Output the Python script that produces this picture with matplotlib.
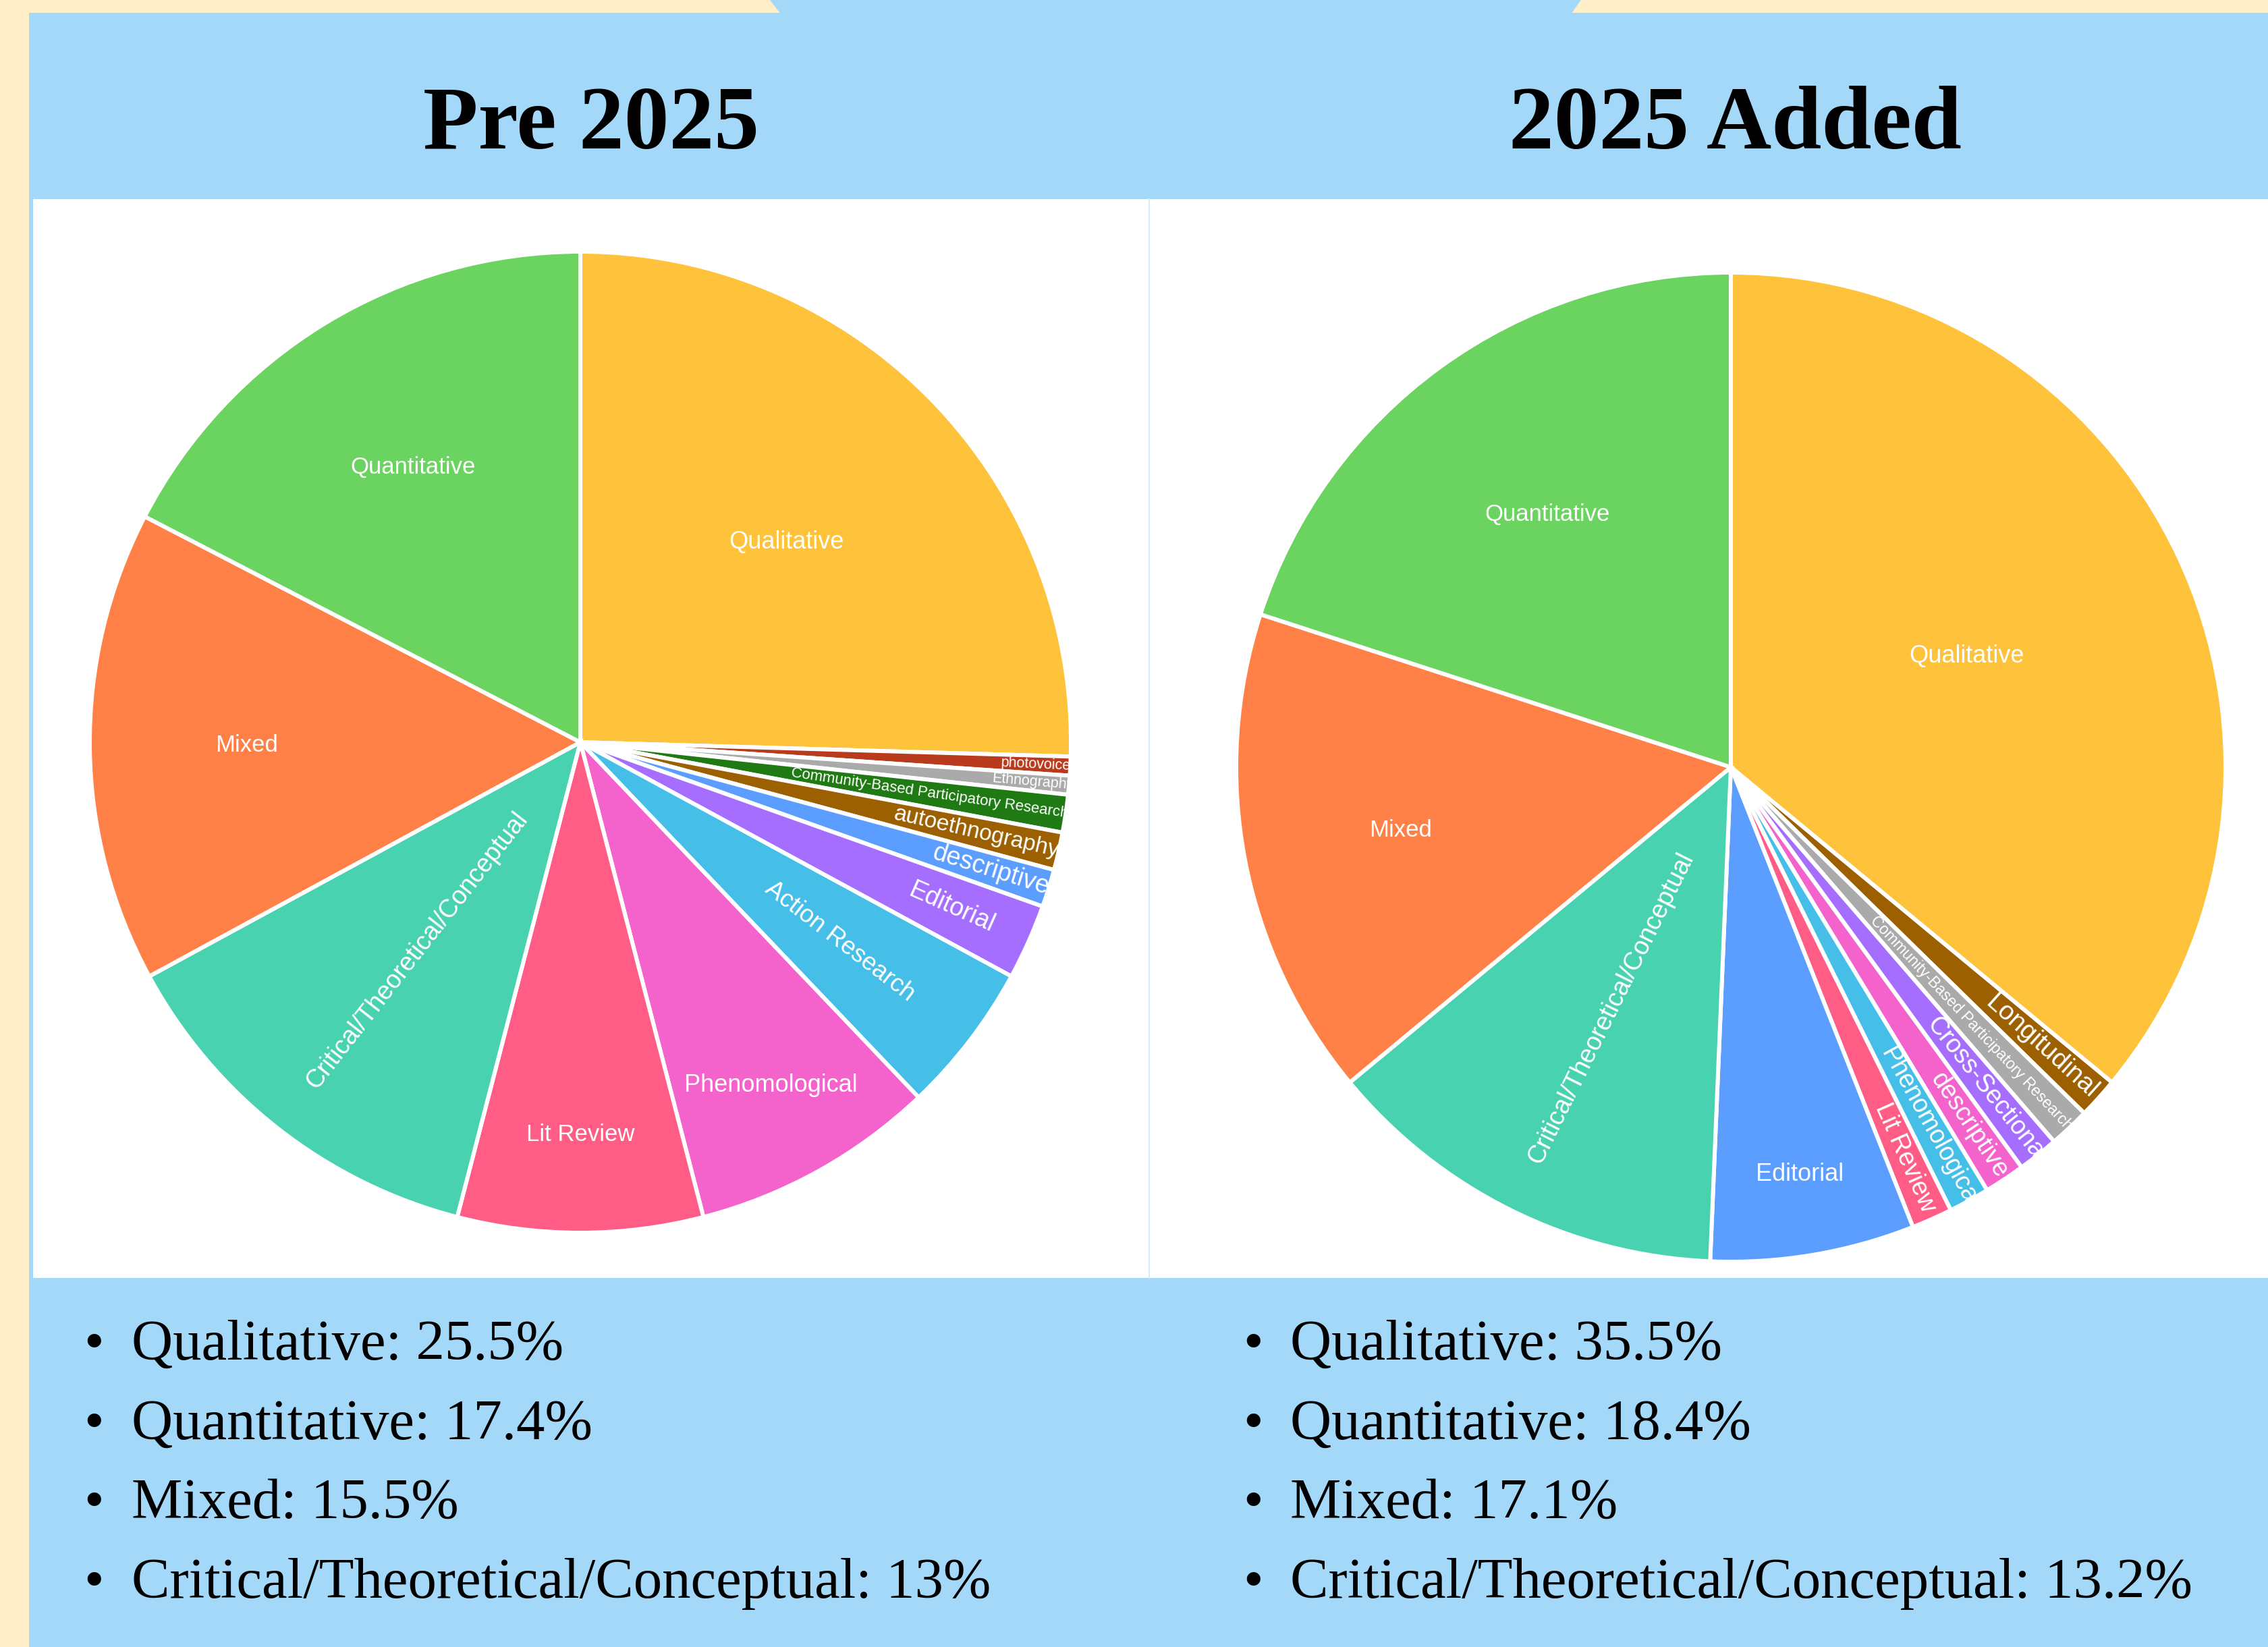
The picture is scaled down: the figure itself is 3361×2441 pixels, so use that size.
import matplotlib
matplotlib.use("Agg")
import matplotlib.pyplot as plt
import numpy as np
from matplotlib.patches import Rectangle, Polygon

# ---- data ----
titles = ["Pre 2025", "2025 Added"]

pre_labels = ["Qualitative", "photovoice", "Ethnography",
              "Community-Based Participatory Research", "autoethnography",
              "descriptive", "Editorial", "Action Research", "Phenomological",
              "Lit Review", "Critical/Theoretical/Conceptual", "Mixed", "Quantitative"]
pre_counts = [41, 1, 1, 2, 2, 2, 4, 8, 13, 13, 21, 25, 28]
pre_colors = ["#FEC23B", "#B83B1E", "#AAAAAA", "#207A13", "#9C6000", "#5C9EFF",
              "#A66EFF", "#45BEE8", "#F463CB", "#FF5D86", "#48D2B0", "#FF8147", "#6BD35F"]

new_labels = ["Qualitative", "Longitudinal", "Community-Based Participatory Research",
              "Cross-Sectional", "descriptive", "Phenomological", "Lit Review",
              "Editorial", "Critical/Theoretical/Conceptual", "Mixed", "Quantitative"]
new_counts = [27, 1, 1, 1, 1, 1, 1, 5, 10, 12, 15]
new_colors = ["#FEC23B", "#9C6000", "#AAAAAA", "#A66EFF", "#F463CB", "#45BEE8",
              "#FF5D86", "#5C9EFF", "#48D2B0", "#FF8147", "#6BD35F"]

pre_bullets = ["Qualitative: 25.5%", "Quantitative: 17.4%", "Mixed: 15.5%",
               "Critical/Theoretical/Conceptual: 13%"]
new_bullets = ["Qualitative: 35.5%", "Quantitative: 18.4%", "Mixed: 17.1%",
               "Critical/Theoretical/Conceptual: 13.2%"]

# label styling: radius fraction, rotate along the radius, font size
pre_lab_r = [0.586, 0.93, 0.926, 0.72, 0.828, 0.876, 0.83, 0.667, 0.80, 0.80, 0.54, 0.68, 0.657]
pre_lab_rot = [False, True, True, True, True, True, True, True, False, False, True, False, False]
pre_lab_fs = [26, 15.5, 15.5, 16, 24, 27, 27, 26.5, 26, 25, 27, 25, 25]

new_lab_r = [0.527, 0.845, 0.71, 0.833, 0.87, 0.834, 0.865, 0.835, 0.545, 0.68, 0.632]
new_lab_rot = [False, True, True, True, True, True, True, False, True, False, False]
new_lab_fs = [26, 28, 16.5, 27, 27, 27, 27, 26, 27, 25, 25]

# ---- layout (pixels) ----
W, H = 3362, 2441
CREAM = "#FEEFC8"
BLUE = "#A3D8F9"

fig = plt.figure(figsize=(W / 100, H / 100), dpi=100)
fig.patch.set_facecolor(CREAM)

bg = fig.add_axes([0, 0, 1, 1])
bg.set_xlim(0, W)
bg.set_ylim(H, 0)
bg.axis("off")

bg.add_patch(Rectangle((43, 19), W - 43, H - 19, color=BLUE, lw=0))
bg.add_patch(Polygon([(1141, 0), (2343, 0), (2329, 19.5), (1156, 19.5)], color=BLUE, lw=0))
bg.add_patch(Rectangle((49, 295), W - 49, 1894 - 295, color="white", lw=0))
bg.plot([1703, 1703], [295, 1894], color="#D2ECF9", lw=1.5)

# titles
for x, t in zip([876, 2571], titles):
    bg.text(x, 220, t, ha="center", va="baseline", fontsize=96,
            fontweight="bold", family="Liberation Serif", color="black")

# bullet lists
baselines = [2015, 2133, 2250, 2368]
for bx, tx, items in [(139, 195, pre_bullets), (1857, 1912, new_bullets)]:
    for yb, s in zip(baselines, items):
        bg.text(bx, yb, "\u2022", ha="center", va="baseline", fontsize=61,
                family="Liberation Serif", color="black")
        bg.text(tx, yb, s, ha="left", va="baseline", fontsize=61,
                family="Liberation Serif", color="black")


def draw_pie(cx, cy, R, counts, colors, labels, lab_r, lab_rot, lab_fs):
    m = 1.1
    ax = fig.add_axes([(cx - m * R) / W, (H - cy - m * R) / H, 2 * m * R / W, 2 * m * R / H])
    wedges, _ = ax.pie(counts, colors=colors, startangle=90, counterclock=False,
                       radius=1, wedgeprops=dict(edgecolor="white", linewidth=4.3))
    ax.set_xlim(-m, m)
    ax.set_ylim(-m, m)
    ax.axis("off")
    for w, lab, rf, rot, fs in zip(wedges, labels, lab_r, lab_rot, lab_fs):
        phi = (w.theta1 + w.theta2) / 2
        ang = ((phi + 90) % 180) - 90 if rot else 0
        p = np.deg2rad(phi)
        ax.text(rf * np.cos(p), rf * np.sin(p), lab, rotation=ang, rotation_mode="anchor",
                ha="center", va="center", color="white", fontsize=fs,
                family="Liberation Sans")
    return ax


draw_pie(860, 1100, 727, pre_counts, pre_colors, pre_labels, pre_lab_r, pre_lab_rot, pre_lab_fs)
draw_pie(2565, 1137, 733, new_counts, new_colors, new_labels, new_lab_r, new_lab_rot, new_lab_fs)

fig.savefig("out.png", dpi=100, facecolor=CREAM)
